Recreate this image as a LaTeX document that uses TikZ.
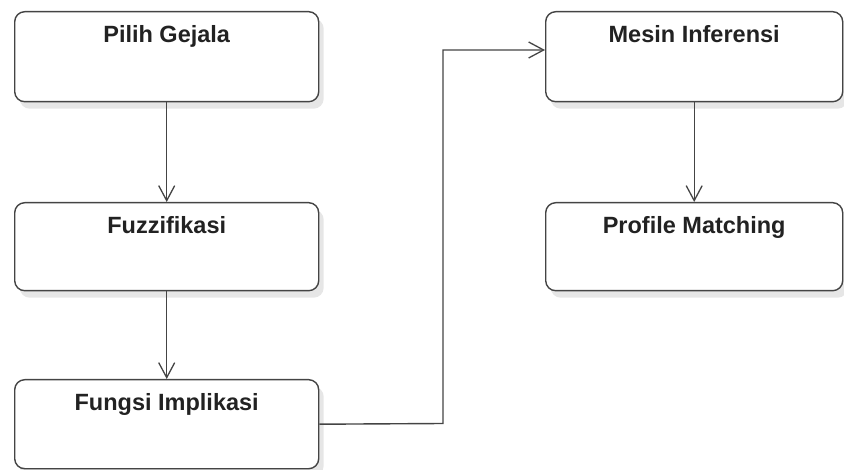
\documentclass[tikz,border=0pt]{standalone}
\usepackage{fontspec}
\setmainfont{Liberation Sans}
\usetikzlibrary{arrows.meta,shadows,positioning}
\definecolor{edgegray}{HTML}{444444}
\definecolor{textgray}{HTML}{222222}
\definecolor{shadowgray}{HTML}{E6E6E6}
\tikzset{
  stagebox/.style={
    draw=edgegray, line width=1.4pt, fill=white, rounded corners=10pt,
    rectangle, anchor=north west, inner xsep=0pt, inner ysep=0pt,
    text height=30.7pt, text depth=59.3pt,
    font=\fontsize{23.5}{26}\selectfont\bfseries, text=textgray,
    drop shadow={shadow xshift=5pt, shadow yshift=-7pt, fill=shadowgray, opacity=1}
  },
  flow/.style={draw=edgegray, line width=1.4pt,
    -{Straight Barb[length=15pt, width=16pt, line width=1.3pt]}},
}
\begin{document}
\begin{tikzpicture}[x=1pt, y=-1pt]
  \useasboundingbox (0,0) rectangle (844,470);

  % left column
  \node[stagebox, minimum width=304pt, minimum height=90pt] (gejala) at (14,11) {Pilih Gejala};
  \node[stagebox, minimum width=304pt, minimum height=88pt, text depth=57.3pt] (fuzzy) at (14,202) {Fuzzifikasi};
  \node[stagebox, minimum width=304pt, minimum height=89pt, text depth=58.3pt] (implik) at (14,379) {Fungsi Implikasi};

  % right column
  \node[stagebox, minimum width=297pt, minimum height=90pt] (mesin) at (545,11) {Mesin Inferensi};
  \node[stagebox, minimum width=297pt, minimum height=88pt, text depth=57.3pt] (profil) at (545,202) {Profile Matching};

  % connectors
  \draw[flow] (gejala.south) -- (fuzzy.north);
  \draw[flow] (fuzzy.south) -- (implik.north);
  \draw[flow] (mesin.south) -- (profil.north);
  \coordinate (bend) at (443,423.5);
  \coordinate (entry) at (545,50);
  \draw[flow] (implik.east) -- (bend) |- (entry);
\end{tikzpicture}
\end{document}
